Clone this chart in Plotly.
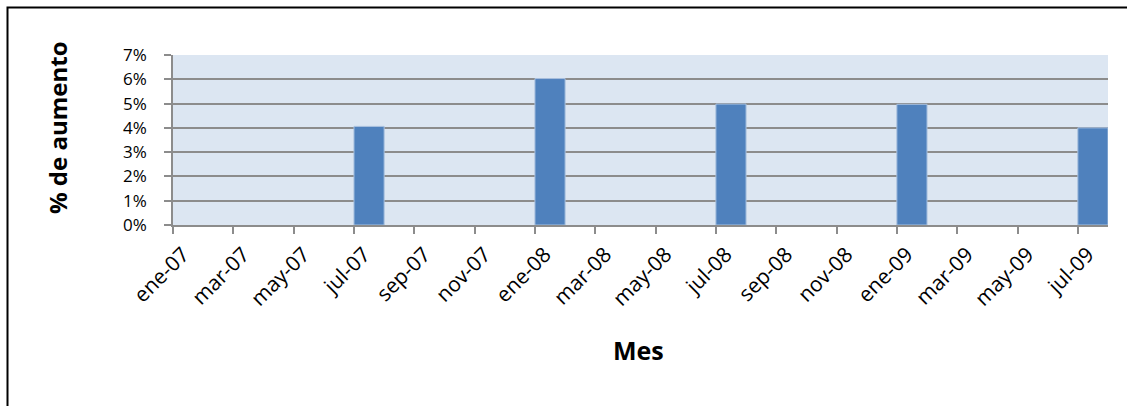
import plotly.graph_objects as go

months = ["ene-07", "feb-07", "mar-07", "abr-07", "may-07", "jun-07", "jul-07", "ago-07",
          "sep-07", "oct-07", "nov-07", "dic-07", "ene-08", "feb-08", "mar-08", "abr-08",
          "may-08", "jun-08", "jul-08", "ago-08", "sep-08", "oct-08", "nov-08", "dic-08",
          "ene-09", "feb-09", "mar-09", "abr-09", "may-09", "jun-09", "jul-09"]
tick_labels = ["ene-07", "mar-07", "may-07", "jul-07", "sep-07", "nov-07", "ene-08", "mar-08",
               "may-08", "jul-08", "sep-08", "nov-08", "ene-09", "mar-09", "may-09", "jul-09"]
bar_months = ["jul-07", "ene-08", "jul-08", "ene-09", "jul-09"]
aumento = [0.0406, 0.0603, 0.0498, 0.0497, 0.0400]

W, H = 1127, 406
ml, mr, mt, mb = 173, 19, 55, 181
pw, ph = W - ml - mr, H - mt - mb

def px(x):
    return (x - ml) / pw

def py(y):
    return (H - mb - y) / ph

FONT = "Open Sans"
GRID = "#8c8c8c"

fig = go.Figure()
fig.add_trace(go.Bar(
    x=bar_months, y=aumento,
    offset=0, width=1,
    marker=dict(color="#4f81bd", line=dict(color="#a9c1df", width=1)),
    hoverinfo="x+y",
))

fig.update_layout(
    width=W, height=H,
    margin=dict(l=ml, r=mr, t=mt, b=mb),
    paper_bgcolor="white",
    plot_bgcolor="#dce6f2",
    showlegend=False,
    font=dict(family=FONT, color="black"),
    xaxis=dict(
        type="category",
        categoryorder="array", categoryarray=months,
        range=[0, len(months)],
        tickmode="array", tickvals=tick_labels, ticktext=tick_labels,
        tickangle=-45,
        tickfont=dict(size=21, family=FONT),
        ticks="outside", ticklen=7, tickwidth=1.5, tickcolor=GRID,
        showline=True, linecolor=GRID, linewidth=2,
        showgrid=False, zeroline=False,
        ticklabelshift=10,
    ),
    yaxis=dict(
        range=[0, 0.07], dtick=0.01, tickformat=".0%",
        tickfont=dict(size=17, family=FONT),
        ticks="outside", ticklen=7, tickwidth=1.5, tickcolor=GRID,
        showline=True, linecolor=GRID, linewidth=1.5,
        showgrid=True, gridcolor=GRID, gridwidth=1.5,
        zeroline=False,
        ticklabelstandoff=14,
    ),
    annotations=[
        dict(text="<b>Mes</b>", x=px(638), y=py(350), xref="paper", yref="paper",
             showarrow=False, font=dict(size=25, family=FONT), xanchor="center", yanchor="middle"),
        dict(text="<b>% de aumento</b>", x=px(57), y=py(128), xref="paper", yref="paper",
             showarrow=False, textangle=-90, font=dict(size=24, family=FONT),
             xanchor="center", yanchor="middle"),
    ],
    shapes=[
        dict(type="rect", xref="paper", yref="paper",
             x0=px(7.5), x1=px(W + 20), y0=py(H + 20), y1=py(7.5),
             line=dict(color="black", width=2), fillcolor="rgba(0,0,0,0)", layer="below"),
    ],
)

fig.write_html("out.html")
